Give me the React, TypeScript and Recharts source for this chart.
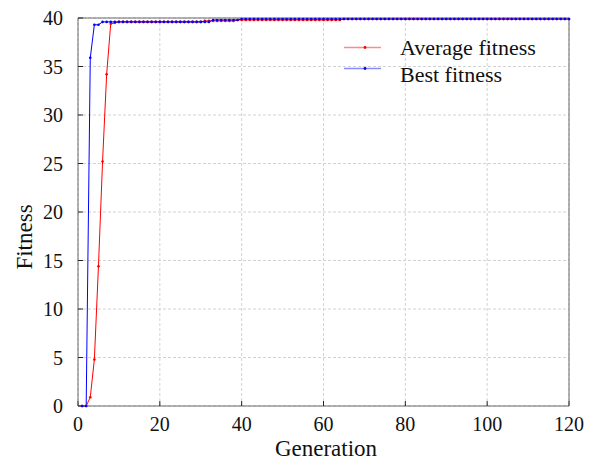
import {
  CartesianGrid,
  Label,
  Legend,
  Line,
  LineChart,
  XAxis,
  YAxis,
} from "recharts";

const GENERATIONS = [
  1, 2, 3, 4, 5, 6, 7, 8, 9, 10, 11, 12, 13, 14, 15, 16, 17, 18, 19, 20,
  21, 22, 23, 24, 25, 26, 27, 28, 29, 30, 31, 32, 33, 34, 35, 36, 37, 38, 39, 40,
  41, 42, 43, 44, 45, 46, 47, 48, 49, 50, 51, 52, 53, 54, 55, 56, 57, 58, 59, 60,
  61, 62, 63, 64, 65, 66, 67, 68, 69, 70, 71, 72, 73, 74, 75, 76, 77, 78, 79, 80,
  81, 82, 83, 84, 85, 86, 87, 88, 89, 90, 91, 92, 93, 94, 95, 96, 97, 98, 99, 100,
  101, 102, 103, 104, 105, 106, 107, 108, 109, 110, 111, 112, 113, 114, 115, 116, 117, 118, 119, 120,
];

const AVERAGE_FITNESS = [
  0, 0, 0.9, 4.8, 14.4, 25.2, 34.2, 39.4, 39.5, 39.6,
  39.6, 39.6, 39.6, 39.6, 39.6, 39.6, 39.6, 39.6, 39.6, 39.6,
  39.6, 39.6, 39.6, 39.6, 39.6, 39.6, 39.6, 39.6, 39.6, 39.6,
  39.7, 39.7, 39.7, 39.7, 39.7, 39.7, 39.7, 39.7, 39.8, 39.8,
  39.8, 39.8, 39.8, 39.8, 39.8, 39.8, 39.8, 39.8, 39.8, 39.8,
  39.8, 39.8, 39.8, 39.8, 39.8, 39.8, 39.8, 39.8, 39.8, 39.8,
  39.8, 39.8, 39.8, 39.8, 39.9, 39.9, 39.9, 39.9, 39.9, 39.9,
  39.9, 39.9, 39.9, 39.9, 39.9, 39.9, 39.9, 39.9, 39.9, 39.9,
  39.9, 39.9, 39.9, 39.9, 39.9, 39.9, 39.9, 39.9, 39.9, 39.9,
  39.9, 39.9, 39.9, 39.9, 39.9, 39.9, 39.9, 39.9, 39.9, 39.9,
  39.9, 39.9, 39.9, 39.9, 39.9, 39.9, 39.9, 39.9, 39.9, 39.9,
  39.9, 39.9, 39.9, 39.9, 39.9, 39.9, 39.9, 39.9, 39.9, 39.9,
];

const BEST_FITNESS = [
  0, 0, 35.9, 39.3, 39.3, 39.6, 39.6, 39.6, 39.6, 39.6,
  39.6, 39.6, 39.6, 39.6, 39.6, 39.6, 39.6, 39.6, 39.6, 39.6,
  39.6, 39.6, 39.6, 39.6, 39.6, 39.6, 39.6, 39.6, 39.6, 39.6,
  39.6, 39.6, 39.8, 39.8, 39.8, 39.8, 39.8, 39.8, 39.8, 39.9,
  39.9, 39.9, 39.9, 39.9, 39.9, 39.9, 39.9, 39.9, 39.9, 39.9,
  39.9, 39.9, 39.9, 39.9, 39.9, 39.9, 39.9, 39.9, 39.9, 39.9,
  39.9, 39.9, 39.9, 39.9, 39.9, 39.9, 39.9, 39.9, 39.9, 39.9,
  39.9, 39.9, 39.9, 39.9, 39.9, 39.9, 39.9, 39.9, 39.9, 39.9,
  39.9, 39.9, 39.9, 39.9, 39.9, 39.9, 39.9, 39.9, 39.9, 39.9,
  39.9, 39.9, 39.9, 39.9, 39.9, 39.9, 39.9, 39.9, 39.9, 39.9,
  39.9, 39.9, 39.9, 39.9, 39.9, 39.9, 39.9, 39.9, 39.9, 39.9,
  39.9, 39.9, 39.9, 39.9, 39.9, 39.9, 39.9, 39.9, 39.9, 39.9,
];

const X_TICKS = [0, 20, 40, 60, 80, 100, 120];
const Y_TICKS = [0, 5, 10, 15, 20, 25, 30, 35, 40];

const SERIES = [
  { key: "average", name: "Average fitness", color: "#ff0000", legend: "#ff8a8a" },
  { key: "best", name: "Best fitness", color: "#0000ff", legend: "#8a8aff" },
];

const FONT = '"Liberation Serif", "Times New Roman", serif';
const FRAME = "#6b6b6b";

const data = GENERATIONS.map((gen, i) => ({
  gen,
  average: AVERAGE_FITNESS[i],
  best: BEST_FITNESS[i],
}));

function LegendBox() {
  return (
    <svg width={220} height={60} style={{ display: "block" }}>
      {SERIES.map((s, i) => {
        const ly = i === 0 ? 17.5 : 38.5;
        const ty = i === 0 ? 25 : 51.5;
        return (
          <g key={s.key}>
            <line x1={14} x2={51} y1={ly} y2={ly} stroke={s.legend} strokeWidth={1.5} />
            <circle cx={35} cy={ly} r={1.4} fill={s.color} />
            <text x={70} y={ty} fontSize={22} fontFamily={FONT} fill="#111">
              {s.name}
            </text>
          </g>
        );
      })}
    </svg>
  );
}

export default function App() {
  return (
    <div style={{ width: 592, height: 461, background: "#fff", fontFamily: FONT }}>
      <style>{`body { margin: 0; overflow: hidden; }`}</style>
      <LineChart
        width={592}
        height={461}
        data={data}
        margin={{ top: 17, right: 22, bottom: 0, left: 0 }}
        style={{ fontFamily: FONT }}
      >
        <CartesianGrid
          stroke="#d2d2d2"
          strokeDasharray="3 2"
          horizontalValues={Y_TICKS}
          verticalValues={X_TICKS}
        />
        <XAxis
          dataKey="gen"
          type="number"
          domain={[0, 120]}
          ticks={X_TICKS}
          height={55}
          tickSize={-5}
          tickMargin={16}
          stroke={FRAME}
          tick={{ fontSize: 20, fill: "#111", fontFamily: FONT }}
          tickLine={{ stroke: "#222" }}
        >
          <Label
            content={() => (
              <text x={326} y={456} textAnchor="middle" fontSize={23} fontFamily={FONT} fill="#111">
                Generation
              </text>
            )}
          />
        </XAxis>
        <XAxis
          xAxisId="top"
          orientation="top"
          type="number"
          domain={[0, 120]}
          ticks={X_TICKS}
          height={1}
          tickSize={-5}
          tick={false}
          stroke={FRAME}
          tickLine={{ stroke: "#222" }}
        />
        <YAxis
          type="number"
          domain={[0, 40]}
          ticks={Y_TICKS}
          width={78}
          tickSize={-5}
          tickMargin={20}
          stroke={FRAME}
          tick={{ fontSize: 20, fill: "#111", fontFamily: FONT }}
          tickLine={{ stroke: "#222" }}
        >
          <Label
            content={() => (
              <text
                x={32}
                y={237}
                transform="rotate(-90 32 237)"
                textAnchor="middle"
                fontSize={23}
                fontFamily={FONT}
                fill="#111"
              >
                Fitness
              </text>
            )}
          />
        </YAxis>
        <YAxis
          yAxisId="right"
          orientation="right"
          type="number"
          domain={[0, 40]}
          ticks={Y_TICKS}
          width={1}
          tickSize={-5}
          tick={false}
          stroke={FRAME}
          tickLine={{ stroke: "#222" }}
        />
        <Legend
          layout="vertical"
          align="center"
          verticalAlign="middle"
          wrapperStyle={{ left: 330, top: 30, width: 220, height: 60 }}
          content={() => <LegendBox />}
        />
        {SERIES.map((s) => (
          <Line
            key={s.key}
            dataKey={s.key}
            name={s.name}
            type="linear"
            stroke={s.color}
            strokeWidth={1}
            dot={{ r: 1.3, fill: s.color, stroke: "none" }}
            activeDot={false}
            isAnimationActive={false}
          />
        ))}
      </LineChart>
    </div>
  );
}
